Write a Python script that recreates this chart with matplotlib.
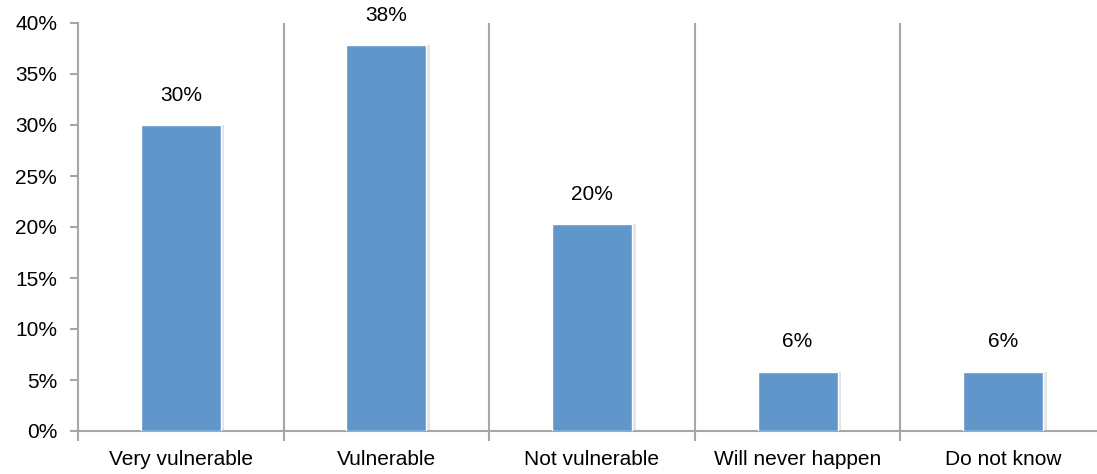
import matplotlib.pyplot as plt
import numpy as np

categories = ["Very vulnerable", "Vulnerable", "Not vulnerable", "Will never happen", "Do not know"]
values = [30.0, 37.8, 20.3, 5.8, 5.8]
labels = ["30%", "38%", "20%", "6%", "6%"]

plt.rcParams['font.family'] = ['Liberation Sans', 'DejaVu Sans']

fig = plt.figure(figsize=(10.97, 4.74), dpi=100)
ax = fig.add_axes([78/1097, 43/474, 1028/1097, 408/474])

x = np.arange(len(categories))
gray = '#a6a6a6'

# faint shadow behind bars, then the bars
ax.bar(x + 0.012, values, width=0.40, color='#e4e4e4', zorder=2)
bars = ax.bar(x, values, width=0.39, color='#6096c9', edgecolor='white', linewidth=1, zorder=3)
for b, t in zip(bars, labels):
    ax.text(b.get_x() + b.get_width()/2, b.get_height() + 2.0, t,
            ha='center', va='bottom', fontsize=15)

ax.set_xlim(-0.5, len(categories) - 0.5)
ax.set_ylim(0, 40)
ax.set_yticks(np.arange(0, 41, 5))
ax.set_yticklabels([f"{v}%" for v in range(0, 41, 5)], fontsize=15)

# separators between categories
for s in np.arange(0.5, len(categories) - 0.5, 1):
    ax.axvline(s, color=gray, linewidth=1.5, zorder=1)
ax.set_xticks(np.arange(-0.5, len(categories), 1))
ax.set_xticklabels([])
ax.tick_params(axis='x', length=7, color=gray, width=1.5)
ax.tick_params(axis='y', length=6, color=gray, width=1.5, pad=9)
for i, c in enumerate(categories):
    ax.text(i, -1.9, c, ha='center', va='top', fontsize=15)

for side in ['top', 'right']:
    ax.spines[side].set_visible(False)
for side in ['left', 'bottom']:
    ax.spines[side].set_color(gray)
    ax.spines[side].set_linewidth(1.5)

fig.savefig('out.png', dpi=100)
